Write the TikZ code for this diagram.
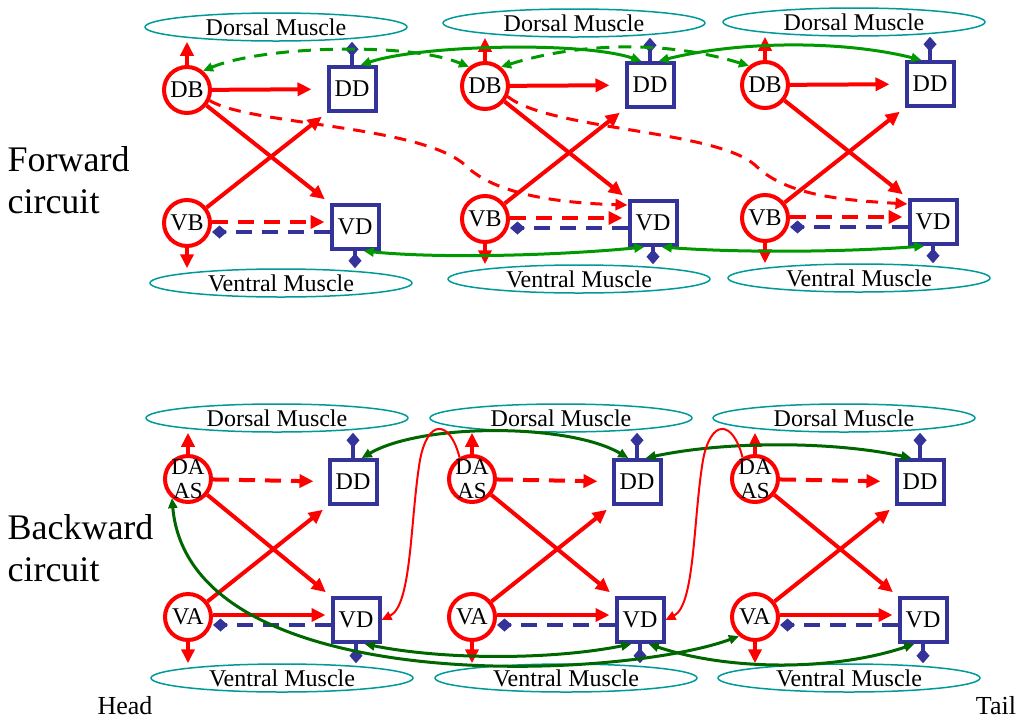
\documentclass[tikz,border=0pt]{standalone}
\usepackage{fontspec}
\setmainfont{Liberation Serif}
\usetikzlibrary{arrows.meta,shapes.geometric}
\definecolor{inhblue}{RGB}{51,51,153}
\definecolor{musclecol}{RGB}{0,153,153}
\definecolor{gapgreen}{RGB}{0,153,0}
\definecolor{backgreen}{RGB}{0,102,0}
\tikzset{
	exc/.style={circle,draw=red,line width=4pt,minimum size=46pt,inner sep=-6pt,align=center,font=\fontsize{24}{24}\selectfont},
	inh/.style={rectangle,draw=inhblue,line width=4pt,minimum width=47pt,minimum height=44pt,inner sep=0pt,font=\fontsize{24}{28}\selectfont},
	muscle/.style={ellipse,draw=musclecol,line width=1.5pt,minimum width=262pt,minimum height=28pt,inner sep=0pt,font=\fontsize{24}{28}\selectfont},
	excarr/.style={red,line width=4pt,-{Triangle[length=14pt,width=13pt]}},
	inharr/.style={inhblue,line width=4pt,-{Diamond[length=15pt,width=13pt]}},
	longdash/.style={dash pattern=on 16pt off 10pt},
	fwdgap/.style={gapgreen,line width=3pt,{Triangle[length=10pt,width=9pt]}-{Triangle[length=10pt,width=9pt]}},
	bwdgap/.style={backgreen,line width=3pt,{Triangle[length=10pt,width=9pt]}-{Triangle[length=10pt,width=9pt]}},
	thinred/.style={red,line width=2pt,-{Triangle[length=10pt,width=9pt]}}
}
\begin{document}
\begin{tikzpicture}[x=1pt,y=-1pt]
	\useasboundingbox (0,0) rectangle (1025,721);
	% forward circuit, three segments
	\foreach \i/\sx/\sy in {1/0/0,2/298/-4,3/578/-5}{
		\begin{scope}[shift={(\sx,\sy)}]
			\node[muscle] (fDM\i) at (276,27) {Dorsal Muscle};
			\node[exc] (DB\i) at (187,90) {DB};
			\node[inh] (fDD\i) at (352,89) {DD};
			\node[exc] (VB\i) at (187,223) {VB};
			\node[inh] (fVD\i) at (355,227) {VD};
			\node[muscle] (fVM\i) at (281,283) {Ventral Muscle};
			\draw[excarr] (DB\i) -- (DB\i.north |- fDM\i.south);
			\draw[inharr] (fDD\i) -- (fDD\i.north |- fDM\i.south);
			\draw[excarr] (VB\i) -- (VB\i.south |- fVM\i.north);
			\draw[inharr] (fVD\i) -- (fVD\i.south |- fVM\i.north);
			\draw[excarr,shorten >=15pt] (DB\i) -- (fDD\i);
			\draw[excarr,shorten >=6pt] (DB\i) -- (fVD\i.north west);
			\draw[excarr,shorten >=6pt] (VB\i) -- (fDD\i.south west);
			\draw[excarr,longdash,shorten >=5pt] ([yshift=5pt]fVD\i.west -| VB\i.east) -- ([yshift=5pt]fVD\i.west);
			\draw[inharr,longdash] ([yshift=-5pt]fVD\i.west) -- ([yshift=-5pt]fVD\i.west -| VB\i.east);
		\end{scope}
	}
	% backward circuit, three segments
	\foreach \i/\sx in {1/0,2/284,3/567}{
		\begin{scope}[shift={(\sx,0)}]
			\node[muscle] (bDM\i) at (277,418) {Dorsal Muscle};
			\node[exc,font=\fontsize{23}{24}\selectfont] (DA\i) at (188,479) {DA\\AS};
			\node[inh] (bDD\i) at (353,482) {DD};
			\node[exc] (VA\i) at (188,617) {VA};
			\node[inh] (bVD\i) at (356,620) {VD};
			\node[muscle] (bVM\i) at (282,678) {Ventral Muscle};
			\draw[excarr] (DA\i) -- (DA\i.north |- bDM\i.south);
			\draw[inharr] (bDD\i) -- (bDD\i.north |- bDM\i.south);
			\draw[excarr] (VA\i) -- (VA\i.south |- bVM\i.north);
			\draw[inharr] (bVD\i) -- (bVD\i.south |- bVM\i.north);
			\draw[excarr,longdash,shorten >=14pt] (DA\i) -- (bDD\i);
			\draw[excarr,shorten >=6pt] (DA\i) -- (bVD\i.north west);
			\draw[excarr,shorten >=6pt] (VA\i) -- (bDD\i.south west);
			\draw[excarr,shorten >=5pt] ([yshift=5pt]bVD\i.west -| VA\i.east) -- ([yshift=5pt]bVD\i.west);
			\draw[inharr,longdash] ([yshift=-5pt]bVD\i.west) -- ([yshift=-5pt]bVD\i.west -| VA\i.east);
		\end{scope}
	}
	% forward coupling between segments
	\draw[fwdgap,dash pattern=on 13pt off 9pt] (DB1.50) .. controls +(60,-25) and +(-60,-25) .. (DB2.130);
	\draw[fwdgap,dash pattern=on 13pt off 9pt] (DB2.50) .. controls +(80,-25) and +(-80,-25) .. (DB3.130);
	\draw[fwdgap] (fDD1.70) .. controls +(60,-20) and +(-60,-20) .. (fDD2.110);
	\draw[fwdgap] (fDD2.70) .. controls +(80,-20) and +(-80,-20) .. (fDD3.110);
	\draw[fwdgap] (fVD1.-70) .. controls +(80,8) and +(-80,8) .. (fVD2.-110);
	\draw[fwdgap] (fVD2.-70) .. controls +(80,6) and +(-80,6) .. (fVD3.-110);
	\draw[red,line width=3pt,dash pattern=on 12pt off 9pt,-{Triangle[length=12pt,width=11pt]}] (DB1.-25) .. controls (250,125) and (420,125) .. (465,165) .. controls (495,195) and (560,203) .. ([yshift=-6pt]fVD2.north west);
	\draw[red,line width=3pt,dash pattern=on 12pt off 9pt,-{Triangle[length=12pt,width=11pt]}] (DB2.-25) .. controls (550,130) and (715,130) .. (755,165) .. controls (785,195) and (840,200) .. ([yshift=-6pt]fVD3.north west);
	% backward coupling between segments
	\draw[bwdgap] (bDD1.70) .. controls +(60,-35) and +(-60,-35) .. (bDD2.110);
	\draw[bwdgap] (bDD2.70) .. controls +(80,-17) and +(-80,-17) .. (bDD3.110);
	\draw[bwdgap] (bVD1.-70) .. controls +(80,16) and +(-80,16) .. (bVD2.-110);
	\draw[bwdgap] (bVD2.-70) .. controls +(80,27) and +(-80,27) .. (bVD3.-110);
	\draw[bwdgap] (DA1.-130) .. controls (190,700) and (620,680) .. (VA3.-130);
	\draw[thinred] (DA2.120) .. controls (450,420) and (428,418) .. (420,460) .. controls (410,520) and (412,605) .. (bVD1.east);
	\draw[thinred] (DA3.120) .. controls (733,420) and (711,418) .. (703,460) .. controls (693,520) and (695,605) .. (bVD2.east);
	% labels
	\node[font=\fontsize{36}{42}\selectfont,align=left,anchor=west] (fwdlabel) at (4,180) {Forward\\circuit};
	\node[font=\fontsize{36}{42}\selectfont,align=left,anchor=west] (bwdlabel) at (4,548) {Backward\\circuit};
	\node[font=\fontsize{26}{30}\selectfont] (head) at (125,706) {Head};
	\node[font=\fontsize{26}{30}\selectfont] (tail) at (996,706) {Tail};
\end{tikzpicture}
\end{document}
